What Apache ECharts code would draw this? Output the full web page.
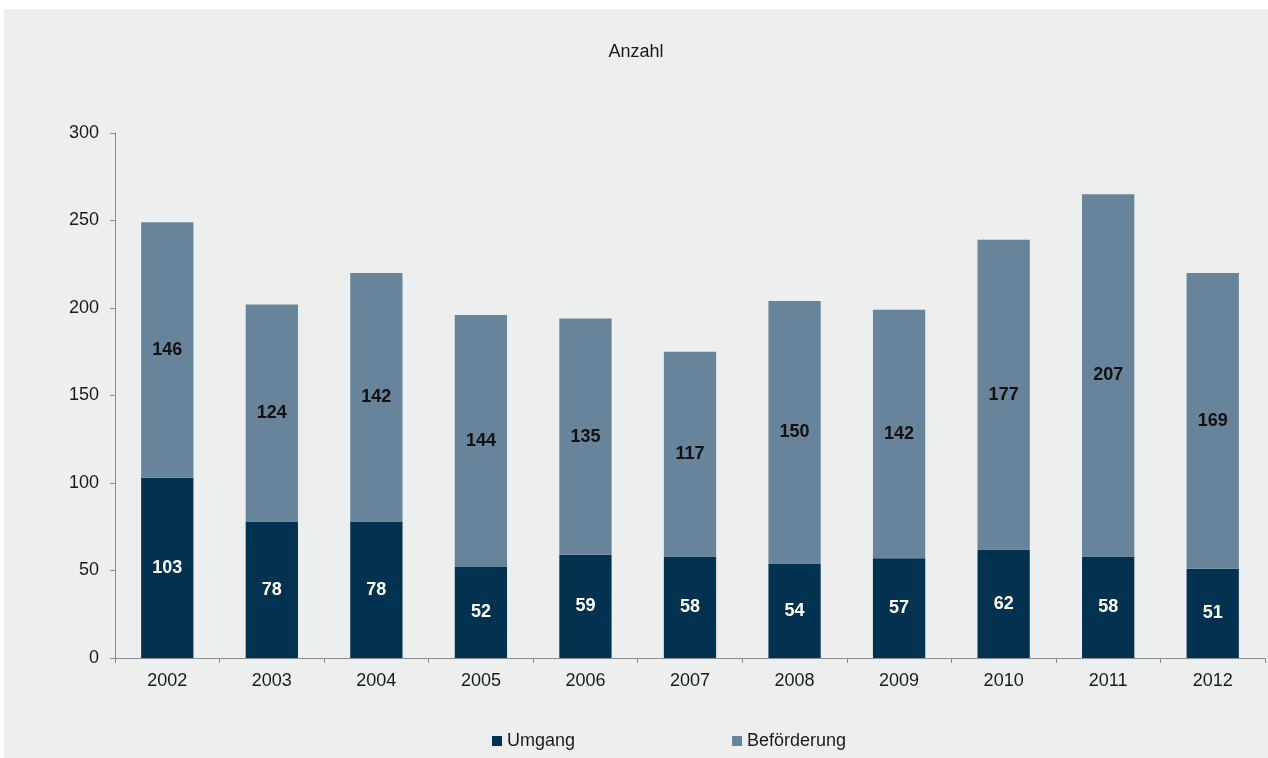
<!DOCTYPE html>
<html>
<head>
<meta charset="utf-8">
<script src="https://cdn.jsdelivr.net/npm/echarts@6/dist/echarts.min.js"></script>
<style>
  html, body { margin: 0; padding: 0; background: #ffffff; width: 1268px; height: 758px; overflow: hidden; }
  #chart { position: absolute; left: 4px; top: 9px; width: 1264px; height: 749px; }
</style>
</head>
<body>
<div id="chart"></div>
<script>
// Jahre und Anzahl der Fälle je Kategorie
const years = ['2002', '2003', '2004', '2005', '2006', '2007', '2008', '2009', '2010', '2011', '2012'];
const umgang = [103, 78, 78, 52, 59, 58, 54, 57, 62, 58, 51];
const befoerderung = [146, 124, 142, 144, 135, 117, 150, 142, 177, 207, 169];
const yTicks = [0, 50, 100, 150, 200, 250, 300];

const FONT = '"Liberation Sans", Arial, Helvetica, sans-serif';
const TEXT = '#1a1a1a';
const AXIS = '#8a8d8e';

const chart = echarts.init(document.getElementById('chart'), null, { renderer: 'canvas' });
chart.setOption({
  backgroundColor: '#edefee',
  animation: false,
  textStyle: { fontFamily: FONT },
  title: {
    text: 'Anzahl',
    left: 'center',
    top: 29,
    textStyle: { fontFamily: FONT, fontSize: 18, fontWeight: 'normal', color: TEXT }
  },
  legend: {
    left: 483,
    top: 718,
    itemWidth: 10,
    itemHeight: 10,
    itemGap: 157,
    icon: 'rect',
    textStyle: { fontFamily: FONT, fontSize: 18, color: TEXT },
    data: ['Umgang', 'Beförderung']
  },
  grid: { left: 111, right: 3, top: 124, bottom: 100 },
  xAxis: {
    type: 'category',
    data: years,
    boundaryGap: true,
    axisLine: { lineStyle: { color: AXIS, width: 1 } },
    axisTick: { show: true, length: 5, lineStyle: { color: AXIS } },
    axisLabel: { margin: 14, fontFamily: FONT, fontSize: 18, color: TEXT }
  },
  yAxis: {
    type: 'value',
    min: yTicks[0],
    max: yTicks[yTicks.length - 1],
    interval: 50,
    splitLine: { show: false },
    axisLine: { show: true, lineStyle: { color: AXIS, width: 1 } },
    axisTick: { show: true, length: 5, lineStyle: { color: AXIS } },
    axisLabel: { margin: 16, fontFamily: FONT, fontSize: 18, color: TEXT }
  },
  series: [
    {
      name: 'Umgang',
      type: 'bar',
      stack: 'gesamt',
      barWidth: '50%',
      data: umgang,
      itemStyle: { color: '#02324f' },
      label: {
        show: true, position: 'inside',
        fontFamily: FONT, fontSize: 18, fontWeight: 'bold', color: '#ffffff'
      }
    },
    {
      name: 'Beförderung',
      type: 'bar',
      stack: 'gesamt',
      barWidth: '50%',
      data: befoerderung,
      itemStyle: { color: '#67849a' },
      label: {
        show: true, position: 'inside',
        fontFamily: FONT, fontSize: 18, fontWeight: 'bold', color: '#111111'
      }
    }
  ]
});
</script>
</body>
</html>
